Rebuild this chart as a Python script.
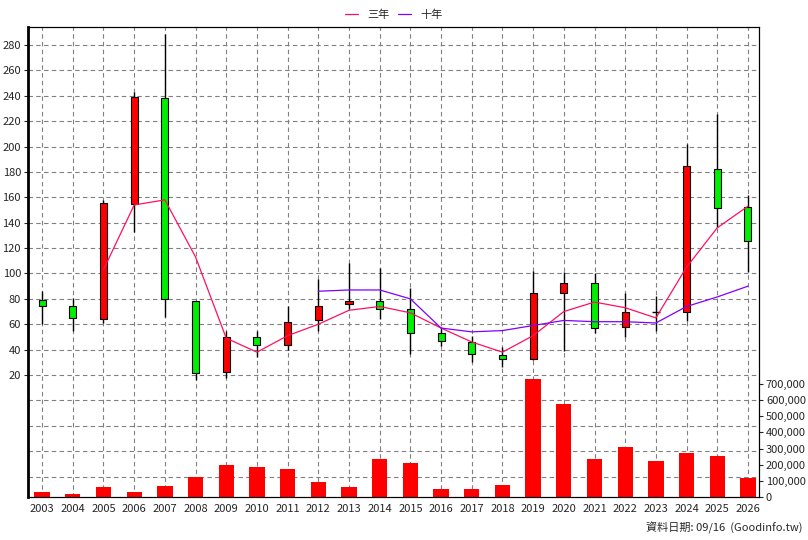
import numpy as np, pandas as pd, seaborn as sns, matplotlib
matplotlib.use("Agg")
import matplotlib.pyplot as plt
from matplotlib.ticker import FuncFormatter

years = [str(y) for y in range(2003, 2027)]
opens  = [79, 74, 64, 155, 238, 78, 22, 50, 44, 63, 76, 78, 72, 53, 46, 36, 33, 85, 92.5, 58, 69.6, 70, 182, 152]
closes = [74, 65, 155.5, 239, 80, 21.6, 50, 44, 62, 74, 78, 72, 53, 47, 36.5, 33, 85, 92.5, 57, 69.6, 70, 185, 151.6, 125.6]
highs  = [86, 81, 158, 243, 289, 78, 55, 55, 74, 96, 108, 104, 88.5, 58, 51, 42, 102, 101, 100, 85, 82, 202, 226, 162]
lows   = [60, 55, 61, 133, 66, 16, 18, 34, 40, 55, 72, 64, 36.5, 43, 30, 26, 32, 39, 53, 50, 55, 62.5, 137, 101]
ma3  = [None, None, 103, 154, 158, 113, 49, 38, 51, 60, 71, 74, 69, 57, 46, 38, 51, 70, 77.5, 73, 65, 105, 136, 153]
ma10 = [None]*9 + [86, 87, 87, 80, 57, 54, 55, 59, 63, 62, 62, 61, 74, 81.5, 90]
volume = [30000, 18000, 62000, 30000, 68000, 124000, 198000, 186000, 173000, 93000, 62000, 235000,
          210000, 50000, 50000, 74000, 730000, 576000, 235000, 310000, 223000, 272000, 254000, 118000]

sns.set_style("white")
plt.rcParams['font.family'] = ['Noto Sans CJK TC', 'DejaVu Sans']
fig = plt.figure(figsize=(8.08, 5.40), dpi=100)
ax = fig.add_axes([28/808, 43/540, 731/808, 470/540])
ax2 = ax.twinx()
x = np.arange(len(years))

ax.set_zorder(2); ax.patch.set_visible(False)
df = pd.DataFrame({"x": x, "vol": volume})
sns.barplot(data=df, x="x", y="vol", ax=ax2, color="#ff0000", saturation=1, width=0.5,
            native_scale=True, linewidth=0, zorder=2)
vmax = 700000 * 470 / 113
ax2.set_ylim(0, vmax)
ax2.set_yticks(np.arange(0, 700001, 100000))
ax2.yaxis.set_major_formatter(FuncFormatter(lambda v, p: f"{int(v):,}"))
ax2.set_ylabel(""); ax2.set_xlabel("")

for i in x:
    o, c = opens[i], closes[i]
    col = "#ff0000" if c > o else ("#00ee00" if c < o else "black")
    ax.vlines(i, lows[i], highs[i], color="black", lw=1, zorder=3)
    lo, hi = min(o, c), max(o, c)
    if hi - lo < 1:
        ax.hlines(o, i - 0.12, i + 0.12, color="black", lw=1, zorder=4)
    else:
        ax.bar(i, hi - lo, bottom=lo, width=0.23, color=col, edgecolor="black", lw=0.8, zorder=4)

ldf = pd.DataFrame({"x": x, "ma3": ma3, "ma10": ma10}).astype(float)
sns.lineplot(data=ldf, x="x", y="ma3", ax=ax, color="#ff1060", lw=0.9, label="三年", zorder=5)
sns.lineplot(data=ldf, x="x", y="ma10", ax=ax, color="#8000ff", lw=0.9, label="十年", zorder=5)

pmin, pmax = 20 - 122 / 1.269, 20 + 348 / 1.269
ax.set_ylim(pmin, pmax)
ax.set_xlim(-0.46, 23.36)
ax.set_yticks(np.arange(20, 281, 20))
ax.set_xticks(x); ax.set_xticklabels(years)
ax.set_xlabel(""); ax.set_ylabel("")
for yv in np.arange(-60, 300, 20):
    ax2.axhline((yv - pmin) / (pmax - pmin) * vmax, color="gray", ls=(0, (4, 3)), lw=0.8, zorder=0)
for xv in x:
    ax2.axvline(xv, color="gray", ls=(0, (4, 3)), lw=0.8, zorder=0)
for a in (ax, ax2):
    a.tick_params(labelsize=8, length=3, pad=2)
    for s in a.spines.values():
        s.set_color("black")
ax.spines['left'].set_linewidth(2)
ax.legend(loc="lower center", bbox_to_anchor=(0.5, 1.0), ncol=2, frameon=False, fontsize=8,
          handlelength=1.2, columnspacing=0.8, borderaxespad=0.2)
fig.text(803/808, 6/540, "資料日期: 09/16  (Goodinfo.tw)", ha="right", va="bottom", fontsize=8)
fig.savefig("out.png", dpi=100, facecolor="white")
